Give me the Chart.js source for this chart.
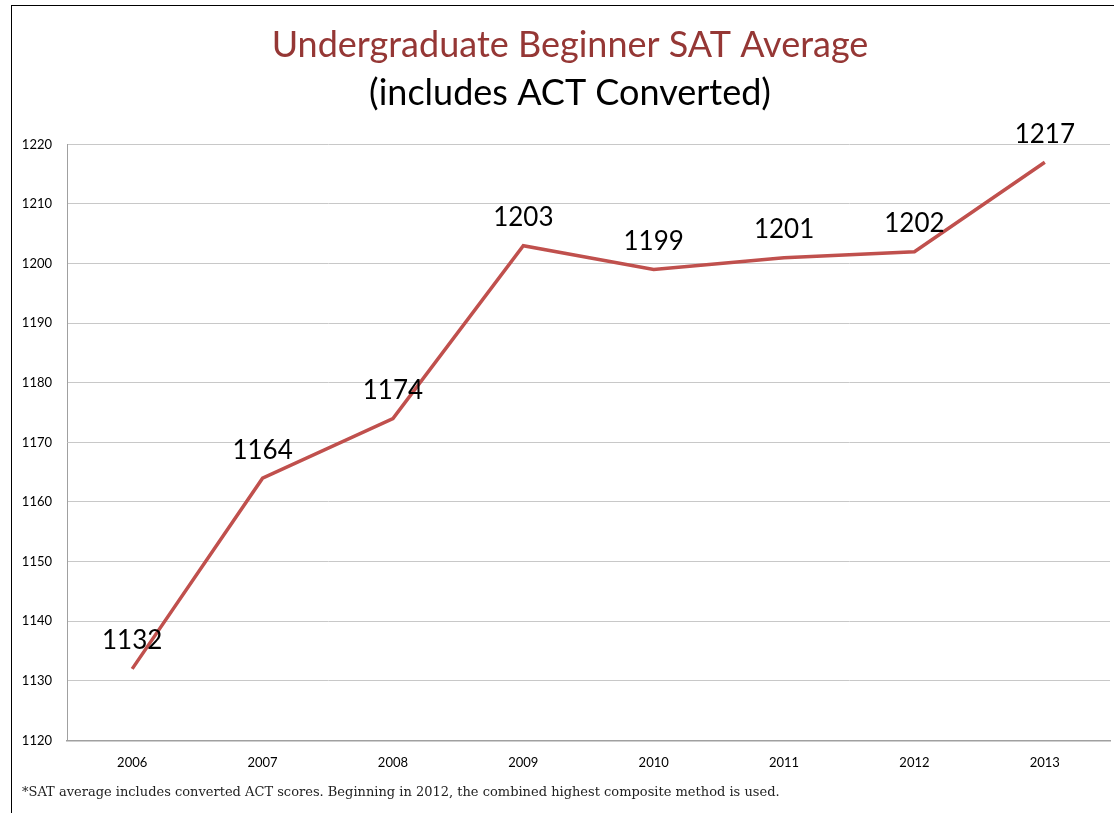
<!DOCTYPE html>
<html>
<head>
<meta charset="utf-8">
<script src="https://cdn.jsdelivr.net/npm/chart.js@4"></script>
<style>
  html, body { margin: 0; padding: 0; background: #fff; }
  #wrap { position: relative; width: 1114px; height: 813px; }
  #frame { position: absolute; left: 11px; top: 5px; right: -10px; bottom: -10px; border-left: 1.5px solid #000; border-top: 1.5px solid #000; pointer-events: none; }
  #note { position: absolute; left: 22px; top: 784px; font-family: "DejaVu Serif", serif; font-size: 13px; color: #222; white-space: nowrap; }
</style>
</head>
<body>
<div id="wrap">
  <canvas id="myChart" width="1114" height="813"></canvas>
  <div id="frame"></div>
  <div id="note">*SAT average includes converted ACT scores. Beginning in 2012, the combined highest composite method is used.</div>
</div>
<script>
"use strict";

const years = ['2006', '2007', '2008', '2009', '2010', '2011', '2012', '2013'];
const satAverage = [1132, 1164, 1174, 1203, 1199, 1201, 1202, 1217];
const yMin = 1120;
const yMax = 1220;
const yStep = 10;

const FONT = 'Lato, "Open Sans", sans-serif';

// labels above each point
const pointLabels = {
    id: 'pointLabels',
    afterDatasetsDraw(chart) {
        const ctx = chart.ctx;
        const meta = chart.getDatasetMeta(0);
        ctx.save();
        ctx.font = '26px ' + FONT;
        ctx.fillStyle = '#000';
        ctx.textAlign = 'center';
        ctx.textBaseline = 'middle';
        meta.data.forEach((pt, i) => {
            ctx.fillText(String(satAverage[i]), pt.x, pt.y - 28);
        });
        ctx.restore();
    }
};

// titles sit a bit right of the canvas centre in the original
const shiftTitles = {
    id: 'shiftTitles',
    afterLayout(chart) {
        chart.boxes.forEach(b => {
            if (b.options && typeof b.options.text === 'string') {
                b.left += 15;
                b.right += 15;
            }
        });
    }
};

const ctx = document.getElementById('myChart');

new Chart(ctx, {
    type: 'line',
    data: {
        labels: years,
        datasets: [{
            data: satAverage,
            borderColor: '#C0504D',
            borderWidth: 3.5,
            pointRadius: 0,
            tension: 0,
            fill: false
        }]
    },
    options: {
        responsive: false,
        animation: false,
        layout: {
            padding: { top: 0, right: 4, bottom: 27, left: 0 }
        },
        plugins: {
            legend: { display: false },
            tooltip: { enabled: false },
            title: {
                display: true,
                text: 'Undergraduate Beginner SAT Average',
                color: '#953735',
                font: { family: FONT, size: 36, weight: 'normal', lineHeight: 1.2 },
                padding: { top: 24, bottom: 0 }
            },
            subtitle: {
                display: true,
                text: '(includes ACT Converted)',
                color: '#000',
                font: { family: FONT, size: 36, weight: 'normal', lineHeight: 1.2 },
                padding: { top: 5, bottom: 29 }
            }
        },
        scales: {
            x: {
                offset: true,
                grid: { display: false, drawTicks: false },
                border: { color: '#a0a0a0', width: 1.5 },
                ticks: { color: '#000', font: { family: FONT, size: 13 }, padding: 15 }
            },
            y: {
                min: yMin,
                max: yMax,
                afterFit(scale) { scale.width = 67; },
                grid: { color: '#c8c8c8', lineWidth: 1, drawTicks: false },
                border: { color: '#a0a0a0', width: 1 },
                ticks: {
                    stepSize: yStep,
                    color: '#000',
                    font: { family: FONT, size: 13 },
                    padding: 15,
                    callback: (v) => String(v)
                }
            }
        }
    },
    plugins: [pointLabels, shiftTitles]
});
</script>
</body>
</html>
